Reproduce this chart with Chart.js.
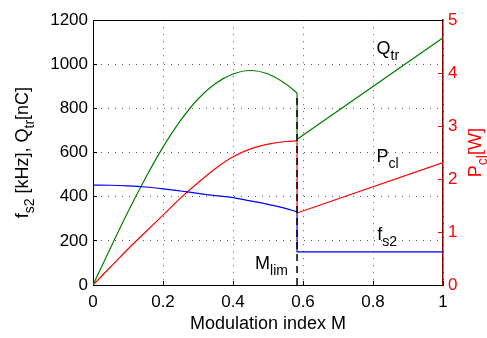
<!DOCTYPE html>
<html>
<head>
<meta charset="utf-8">
<script src="https://cdn.jsdelivr.net/npm/chart.js@4.4.1/dist/chart.umd.min.js"></script>
<style>
  html, body { margin: 0; padding: 0; background: #fff; }
</style>
</head>
<body>
<canvas id="myChart" width="487" height="338"></canvas>
<script>
// values
// curved part, up to M_lim
const modCurve = [0, 0.05, 0.1, 0.15, 0.2, 0.25, 0.3, 0.35, 0.4, 0.45, 0.5, 0.55, 0.583];
const fs2Curve = [453, 452, 449, 444, 436, 426, 415, 405, 396, 381, 365, 347, 332];
const qtrCurve = [0, 168, 332, 485, 625, 745, 843, 913, 956, 972, 956, 912, 870];
const pclCurve = [0, 0.34, 0.68, 1.0, 1.32, 1.64, 1.93, 2.2, 2.42, 2.57, 2.66, 2.71, 2.72];
// jump at M_lim and straight part after it
const mLim = 0.583;
const modJump = [mLim, mLim, 1];
const fs2Jump = [332, 150, 150];
const qtrJump = [870, 660, 1120];
const pclJump = [2.72, 1.36, 2.31];
const mLimSpan = [0, 870];

const xTicks = [0, 0.2, 0.4, 0.6, 0.8, 1];
const leftTicks = [0, 200, 400, 600, 800, 1000, 1200];
const rightTicks = [0, 1, 2, 3, 4, 5];

const FONT = '"Liberation Sans", Arial, Helvetica, sans-serif';

const toPoints = (xs, ys) => xs.map((m, i) => ({ x: m, y: ys[i] }));

// text made of [text, isSub] parts, drawn from x,y on the baseline
function partsWidth(ctx, parts, size, subSize) {
  let w = 0;
  for (const [t, sub] of parts) {
    ctx.font = (sub ? subSize : size) + "px " + FONT;
    w += ctx.measureText(t).width;
  }
  return w;
}
function drawParts(ctx, parts, x, y, size, subSize) {
  let cx = x;
  for (const [t, sub] of parts) {
    ctx.font = (sub ? subSize : size) + "px " + FONT;
    ctx.fillText(t, cx, sub ? y + 6 : y);
    cx += ctx.measureText(t).width;
  }
}

const textPlugin = {
  id: "texts",
  afterDraw(chart) {
    const ctx = chart.ctx;
    const { x, y, y1 } = chart.scales;
    const area = chart.chartArea;
    ctx.save();
    // top edge of the box
    ctx.strokeStyle = "#000";
    ctx.lineWidth = 1;
    ctx.beginPath();
    ctx.moveTo(area.left, Math.round(area.top) + 0.5);
    ctx.lineTo(area.right, Math.round(area.top) + 0.5);
    ctx.stroke();

    ctx.textAlign = "left";
    ctx.textBaseline = "alphabetic";
    ctx.fillStyle = "#000";

    // curve labels
    drawParts(ctx, [["Q", 0], ["tr", 1]], x.getPixelForValue(0.81), y.getPixelForValue(1047), 18, 14);
    drawParts(ctx, [["P", 0], ["cl", 1]], x.getPixelForValue(0.81), y1.getPixelForValue(2.33), 18, 14);
    drawParts(ctx, [["f", 0], ["s2", 1]], x.getPixelForValue(0.812), y.getPixelForValue(205), 18, 14);
    drawParts(ctx, [["M", 0], ["lim", 1]], x.getPixelForValue(0.463), y.getPixelForValue(74), 18, 14);

    // x title
    ctx.font = "18px " + FONT;
    ctx.textAlign = "center";
    ctx.fillText("Modulation index M", (area.left + area.right) / 2, 329);
    ctx.textAlign = "left";

    // left title
    const leftParts = [["f", 0], ["s2", 1], [" [kHz], Q", 0], ["tr", 1], ["[nC]", 0]];
    ctx.save();
    ctx.translate(28, (area.top + area.bottom) / 2);
    ctx.rotate(-Math.PI / 2);
    const lw = partsWidth(ctx, leftParts, 18, 14);
    drawParts(ctx, leftParts, -lw / 2, 0, 18, 14);
    ctx.restore();

    // right title
    const rightParts = [["P", 0], ["cl", 1], ["[W]", 0]];
    ctx.save();
    ctx.fillStyle = "#ff0000";
    ctx.translate(481, (area.top + area.bottom) / 2);
    ctx.rotate(-Math.PI / 2);
    const rw = partsWidth(ctx, rightParts, 18, 14);
    drawParts(ctx, rightParts, -rw / 2, 0, 18, 14);
    ctx.restore();

    ctx.restore();
  },
};

const gridDots = {
  color: "rgba(0,0,0,0.65)",
  lineWidth: 1,
  tickLength: -4,
  tickColor: "#000",
};

const curve = { tension: 0.4 };

new Chart(document.getElementById("myChart"), {
  type: "line",
  data: {
    datasets: [
      {
        label: "Mlim",
        data: mLimSpan.map((v) => ({ x: mLim, y: v })),
        borderColor: "#000",
        borderWidth: 1.5,
        borderDash: [7, 5],
        yAxisID: "y",
        order: -1,
      },
      { label: "fs2", data: toPoints(modCurve, fs2Curve), borderColor: "#0000ff", yAxisID: "y", ...curve },
      { label: "fs2 jump", data: toPoints(modJump, fs2Jump), borderColor: "#0000ff", yAxisID: "y" },
      { label: "Qtr", data: toPoints(modCurve, qtrCurve), borderColor: "#008000", yAxisID: "y", ...curve },
      { label: "Qtr jump", data: toPoints(modJump, qtrJump), borderColor: "#008000", yAxisID: "y" },
      { label: "Pcl", data: toPoints(modCurve, pclCurve), borderColor: "#ff0000", yAxisID: "y1", ...curve },
      { label: "Pcl jump", data: toPoints(modJump, pclJump), borderColor: "#ff0000", yAxisID: "y1" },
    ],
  },
  options: {
    responsive: false,
    animation: false,
    devicePixelRatio: 1,
    layout: { padding: { top: 10, left: 0, right: 0, bottom: 0 } },
    elements: {
      point: { radius: 0 },
      line: { borderWidth: 1.2, tension: 0 },
    },
    plugins: {
      legend: { display: false },
      tooltip: { enabled: false },
    },
    scales: {
      x: {
        type: "linear",
        min: 0,
        max: 1,
        afterBuildTicks: (s) => { s.ticks = xTicks.map((v) => ({ value: v })); },
        afterFit: (s) => { s.height = 53; },
        grid: gridDots,
        border: { color: "#000", width: 1, dash: [1, 6] },
        ticks: {
          color: "#000",
          padding: 11,
          maxRotation: 0,
          font: { family: FONT, size: 17 },
          callback: (v) => String(v),
        },
      },
      y: {
        position: "left",
        min: 0,
        max: 1200,
        afterBuildTicks: (s) => { s.ticks = leftTicks.map((v) => ({ value: v })); },
        afterFit: (s) => { s.width = 93; },
        grid: gridDots,
        border: { color: "#000", width: 1, dash: [1, 6] },
        ticks: {
          color: "#000",
          padding: 9,
          font: { family: FONT, size: 17 },
          callback: (v) => String(v),
        },
      },
      y1: {
        position: "right",
        min: 0,
        max: 5,
        afterBuildTicks: (s) => { s.ticks = rightTicks.map((v) => ({ value: v })); },
        afterFit: (s) => { s.width = 44; },
        grid: { drawOnChartArea: false, tickLength: -5, tickColor: "#ff0000" },
        border: { color: "#8b0000", width: 1.5 },
        ticks: {
          color: "#ff0000",
          padding: 10,
          font: { family: FONT, size: 17 },
          callback: (v) => String(v),
        },
      },
    },
  },
  plugins: [textPlugin],
});
</script>
</body>
</html>
